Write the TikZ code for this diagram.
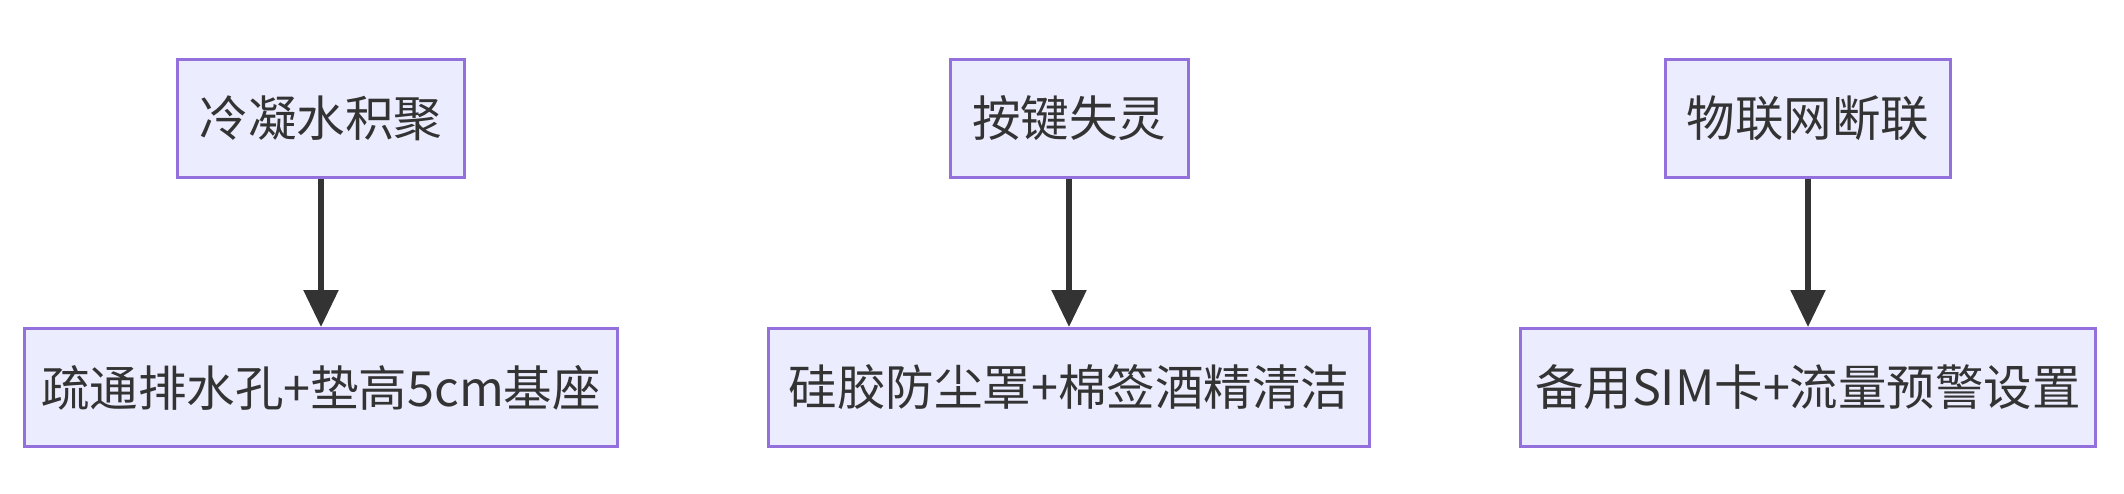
\documentclass[tikz,border=0pt]{standalone}
\usepackage{fontspec}
\setmainfont{Noto Sans CJK SC}
\usetikzlibrary{arrows.meta}
\definecolor{boxfill}{HTML}{ECECFF}
\definecolor{boxline}{HTML}{9370DB}
\definecolor{arrowc}{HTML}{333333}
\tikzset{
  box/.style={draw=boxline, fill=boxfill, line width=3pt, minimum height=118pt,
    inner sep=0pt, anchor=center, text=arrowc, font=\fontsize{48.5}{58}\selectfont},
  flow/.style={draw=arrowc, line width=5.5pt, -{Triangle[length=37pt,width=34pt]}}
}
\begin{document}
\begin{tikzpicture}[x=1pt,y=-1pt]
\useasboundingbox (0,0) rectangle (2124,494);
\node[box, minimum width=287pt] (a1) at (321,118.5) {冷凝水积聚};
\node[box, minimum width=593pt] (b1) at (321,387.5) {疏通排水孔+垫高5cm基座};
\node[box, minimum width=238pt] (a2) at (1069,118.5) {按键失灵};
\node[box, minimum width=601pt] (b2) at (1069,387.5) {硅胶防尘罩+棉签酒精清洁};
\node[box, minimum width=285pt] (a3) at (1808,118.5) {物联网断联};
\node[box, minimum width=575pt] (b3) at (1808,387.5) {备用SIM卡+流量预警设置};
\draw[flow] (a1) -- (b1);
\draw[flow] (a2) -- (b2);
\draw[flow] (a3) -- (b3);
\end{tikzpicture}
\end{document}
